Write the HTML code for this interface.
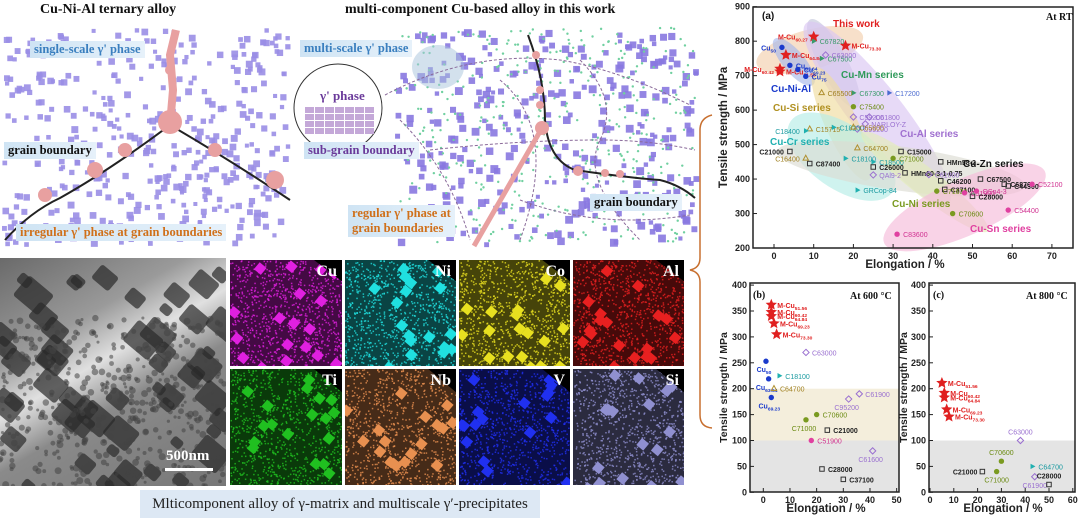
<!DOCTYPE html>
<html><head><meta charset="utf-8">
<style>
body{margin:0;background:#fff;width:1080px;height:518px;overflow:hidden;position:relative;font-family:"Liberation Sans",sans-serif}
.ttl{position:absolute;font-family:"Liberation Serif",serif;font-weight:bold;font-size:14px;color:#111;white-space:nowrap}
.lbl{position:absolute;font-family:"Liberation Serif",serif;font-weight:bold;font-size:12.5px;white-space:nowrap;background:linear-gradient(90deg,#cfe4f4,#e6f1fa);padding:1px 4px}
.map{position:absolute;overflow:hidden;background:#000}
.map span{position:absolute;right:5px;top:3px;color:#fff;font-family:"Liberation Serif",serif;font-weight:bold;font-size:16px}
svg{position:absolute;left:0;top:0}
</style></head><body>
<div class="ttl" style="left:40px;top:2px">Cu-Ni-Al ternary alloy</div>
<div class="ttl" style="left:345px;top:2px">multi-component Cu-based alloy in this work</div>

<svg id="schem" width="700" height="250"></svg>

<div class="lbl" style="left:30px;top:41px;color:#3a7fbf">single-scale γ' phase</div>
<div class="lbl" style="left:4px;top:142px;color:#111">grain boundary</div>
<div class="lbl" style="left:16px;top:224px;color:#d0701a">irregular γ' phase at grain boundaries</div>
<div class="lbl" style="left:300px;top:40px;color:#3a7fbf">multi-scale γ' phase</div>
<div class="lbl" style="left:304px;top:142px;color:#6a3a9a">sub-grain boundary</div>
<div class="lbl" style="left:348px;top:205px;color:#d0701a;line-height:15px">regular γ' phase at<br>grain boundaries</div>
<div class="lbl" style="left:590px;top:194px;color:#111">grain boundary</div>

<div style="position:absolute;left:0;top:258px;width:226px;height:228px;overflow:hidden;background:linear-gradient(150deg,#6a6a6a 0%,#9a9a9a 30%,#e0e0e0 45%,#8a8a8a 60%,#777 100%)">
<svg id="tem" width="226" height="228"></svg>
<div style="position:absolute;left:166px;top:190px;color:#fff;font-family:'Liberation Serif',serif;font-weight:bold;font-size:15px">500nm</div>
<div style="position:absolute;left:165px;top:210px;width:48px;height:3px;background:#fff"></div>
</div>

<div class="map" style="left:230px;top:260px;width:112px;height:106px"><svg class="m" data-c="#e020e0" width="112" height="106"></svg><span>Cu</span></div>
<div class="map" style="left:345px;top:260px;width:111px;height:106px"><svg class="m" data-c="#20e0e0" width="111" height="106"></svg><span>Ni</span></div>
<div class="map" style="left:459px;top:260px;width:111px;height:106px"><svg class="m" data-c="#e8e020" width="111" height="106"></svg><span>Co</span></div>
<div class="map" style="left:573px;top:260px;width:111px;height:106px"><svg class="m" data-c="#e82020" width="111" height="106"></svg><span>Al</span></div>
<div class="map" style="left:230px;top:369px;width:112px;height:116px"><svg class="m" data-c="#20c020" width="112" height="116"></svg><span>Ti</span></div>
<div class="map" style="left:345px;top:369px;width:111px;height:116px"><svg class="m" data-c="#e89050" width="111" height="116"></svg><span>Nb</span></div>
<div class="map" style="left:459px;top:369px;width:111px;height:116px"><svg class="m" data-c="#2030f0" width="111" height="116"></svg><span>V</span></div>
<div class="map" style="left:573px;top:369px;width:111px;height:116px"><svg class="m" data-c="#9090d0" width="111" height="116"></svg><span>Si</span></div>

<div style="position:absolute;left:140px;top:490px;width:400px;height:28px;background:#dde8f4;font-family:'Liberation Serif',serif;font-size:15px;color:#222;text-align:center;line-height:28px">Mlticomponent alloy of γ-matrix and multiscale γ′-precipitates</div>

<svg id="charts" width="1080" height="518"></svg>

<script>
// ---------- chart data ----------
const aNames=["M-Cu60.27","M-Cu73.30","M-Cu64.84","M-Cu60.42","M-Cu51.56","Cu50","Cu63.64","Cu69.23","Cu75","C67820","C67500","C67300","C17200","C63000","C65500","C75400","C59200","C61800","NARLOY-Z","C95200","C15715","C18400","C18200","C65600","C64700","C15000","C21000","C16400","C87400","C18100","C18500","C26000","C71000","HMn58-2","QAl9-2","HMn60-3-1-0.75","C61000","C46200","C67500","C68700","C44300","C37100","C71630","C51900","QSn4-3","C28000","C52100","C54400","C70600","C83600","GRCop-84"];
const aX=[10,18,3,1.5,1.5,2,4,6,8,10,12,20,29,13,12,20,20,24,23,21,9,8,15,20,21,32,4,8,9,18,25,25,30,42,25,33,39,42,52,58,59,43,41,48,51,50,65,59,45,31,21];
const aY=[813,787,760,720,712,782,730,718,698,800,750,650,650,760,650,610,580,580,560,545,545,540,550,550,490,480,480,460,445,460,450,435,460,450,412,418,413,395,400,385,380,370,365,360,365,350,385,310,300,240,368];
const aKind=["star","star","star","star","star","blue","blue","blue","blue","mn","mn","mn","c172","al","si","ni","al","al","al","al","si","cr","cr","si","si","zn","zn","si","zn","cr","cr","zn","ni","zn","al","zn","al","zn","zn","zn","zn","zn","ni","sn","sn","zn","sn","sn","ni","sn","cr"];
const aTicksX=[0,10,20,30,40,50,60,70];
const aTicksY=[200,300,400,500,600,700,800,900];

const bNames=["M-Cu51.56","M-Cu60.42","M-Cu64.84","M-Cu69.23","M-Cu73.30","Cu50","Cu63.64","Cu69.23","C18100","C64700","C63000","C61900","C95200","C70600","C71000","C21000","C51900","C61600","C28000","C37100"];
const bX=[3,3,3,4,5,1,2,3,6,4,16,36,32,20,16,24,18,41,22,30];
const bY=[362,348,340,326,305,253,219,183,225,200,270,190,180,150,140,120,100,80,45,25];
const bKind=["star","star","star","star","star","blue","blue","blue","cr","si","al","al","al","ni","ni","zn","sn","al","zn","zn"];

const cNames=["M-Cu51.56","M-Cu60.42","M-Cu64.84","M-Cu69.23","M-Cu73.30","C63000","C70600","C64700","C71000","C21000","C61900","C28000"];
const cX=[5,6,6,7,8,38,30,43,28,22,44,50];
const cY=[211,192,183,160,146,100,60,50,40,40,30,15];
const cKind=["star","star","star","star","star","al","ni","cr","ni","zn","al","zn"];
const bcTicksY=[0,50,100,150,200,250,300,350,400];
const bTicksX=[0,10,20,30,40,50];
const cTicksX=[0,10,20,30,40,50,60];

// ---------- helpers ----------
const NS="http://www.w3.org/2000/svg";
function mk(parent,tag,attrs,txt){const e=document.createElementNS(NS,tag);for(const k in attrs)e.setAttribute(k,attrs[k]);if(txt!=null)e.textContent=txt;parent.appendChild(e);return e;}
const sty={star:["#e02020","#e02020"],blue:["#1a3acc","#1a3acc"],mn:["#3a9a6a","#3a9a6a"],c172:["#4a6ad0","#4a6ad0"],al:["#9a70d0","#9a70d0"],si:["#b09030","#a08020"],ni:["#7a9a20","#6a8a10"],cr:["#20b0b0","#1a9aa0"],zn:["#333","#222"],sn:["#e040a0","#d03090"]};
function marker(g,k,x,y,s){const c=sty[k][0];
 if(k==="star"){let p="";for(let i=0;i<10;i++){const r=i%2?s*0.45:s;const a=-Math.PI/2+i*Math.PI/5;p+=(x+r*Math.cos(a)).toFixed(1)+","+(y+r*Math.sin(a)).toFixed(1)+" ";}return mk(g,"polygon",{points:p,fill:c});}
 if(k==="blue"||k==="ni"||k==="sn")return mk(g,"circle",{cx:x,cy:y,r:s*0.6,fill:c});
 if(k==="al")return mk(g,"polygon",{points:`${x},${y-s*0.7} ${x+s*0.7},${y} ${x},${y+s*0.7} ${x-s*0.7},${y}`,fill:"none",stroke:c,"stroke-width":1});
 if(k==="zn")return mk(g,"rect",{x:x-s*0.5,y:y-s*0.5,width:s,height:s,fill:"none",stroke:c,"stroke-width":1});
 if(k==="si")return mk(g,"polygon",{points:`${x},${y-s*0.7} ${x+s*0.6},${y+s*0.4} ${x-s*0.6},${y+s*0.4}`,fill:"none",stroke:c,"stroke-width":1});
 return mk(g,"polygon",{points:`${x+s*0.7},${y} ${x-s*0.4},${y-s*0.6} ${x-s*0.4},${y+s*0.6}`,fill:c});}

const C=document.getElementById("charts");

function axes(g,L,T,R,B,xf,yf,tx,ty,yTitle,xTitleX,xTitleY,yTitleX){
 mk(g,"rect",{x:L,y:T,width:R-L,height:B-T,fill:"none",stroke:"#222","stroke-width":1.5});
 tx.forEach(v=>{const x=xf(v);mk(g,"line",{x1:x,y1:B,x2:x,y2:B-4,stroke:"#222"});
  const t=mk(g,"text",{x:x,y:B+11,"text-anchor":"middle","font-size":9,"font-weight":"bold",fill:"#222"},v);
  });
 ty.forEach(v=>{const y=yf(v);mk(g,"line",{x1:L,y1:y,x2:L+4,y2:y,stroke:"#222"});
  const t=mk(g,"text",{x:L-3,y:y+3,"text-anchor":"end","font-size":9,"font-weight":"bold",fill:"#222"},v);
  });
 const xt=mk(g,"text",{x:xTitleX,y:xTitleY,"text-anchor":"middle","font-size":11.5,"font-weight":"bold",fill:"#222"},"Elongation / %");
 
 const yt=mk(g,"text",{x:0,y:0,transform:`translate(${yTitleX},${(T+B)/2}) rotate(-90)`,"text-anchor":"middle","font-size":yTitle[1],"font-weight":"bold",fill:"#222"},yTitle[0]);
 }

function label(g,name,x,y,k,fs){const m=name.match(/^(M-Cu|Cu)([\d.]+)$/);const col=sty[k][1];
 const t=mk(g,"text",{x:x,y:y,"font-size":fs,"font-weight":(k==="star"||k==="blue"||k==="zn")?"bold":"normal",fill:col});
 if(m){mk(t,"tspan",{},m[1]);mk(t,"tspan",{"font-size":fs*0.7,dy:2},m[2]);}else t.textContent=name;
 return t;}

// ---------- chart (a) ----------
const xa=v=>774+v*3.97, ya=v=>248-(v-200)*0.3447;
const ga=mk(C,"g",{});
const ells=[[9,775,55,20,-15,"#f3cfae"],[5,740,30,11,50,"#a8b8ea"],[15,735,50,14,62,"#c4c8dc"],[26,590,115,26,52,"#dac6f2"],[17,560,62,16,65,"#efdc9e"],[17,465,62,32,35,"#b6ece6"],[32,430,125,22,8,"#dcdcd2"],[38,392,80,14,38,"#e4ecb8"],[48,318,88,28,-24,"#f6bcda"]];
ells.forEach(e=>mk(ga,"ellipse",{cx:xa(e[0]),cy:ya(e[1]),rx:e[2],ry:e[3],transform:`rotate(${e[4]} ${xa(e[0])} ${ya(e[1])})`,fill:e[5],opacity:0.65}));
axes(ga,753,7,1073,248,xa,ya,aTicksX,aTicksY,["Tensile strength / MPa",11.5],905,268,727);
aNames.forEach((n,i)=>{const x=xa(aX[i]),y=ya(aY[i]);marker(ga,aKind[i],x,y,aKind[i]==="star"?6:4.5);
 const left=["C21000","C16400","C18400","M-Cu60.42","M-Cu60.27","Cu50"].includes(n);
 const t=label(ga,n,left?x-6:x+6,y+3,aKind[i],7);if(left)t.setAttribute("text-anchor","end");});
[["(a)",762,19,"#111",10,"bold","Liberation Sans"],["At RT",1046,20,"#111",10,"bold","Liberation Serif"],["This work",833,27,"#e02020",10,"bold"],["Cu-Mn series",841,78,"#2f9a5a",10,"bold"],["Cu-Ni-Al",771,92,"#1a3acc",10,"bold"],["Cu-Si series",773,111,"#b09020",10,"bold"],["Cu-Al series",900,137,"#a070d0",10,"bold"],["Cu-Cr series",770,145,"#20b0b0",10,"bold"],["Cu-Zn series",963,167,"#111",10,"bold"],["Cu-Ni series",892,207,"#7a9a20",10,"bold"],["Cu-Sn series",970,232,"#e040a0",10,"bold"]].forEach(s=>{
 const t=mk(ga,"text",{x:s[1],y:s[2],fill:s[3],"font-size":s[4],"font-weight":s[5],"font-family":s[6]||"Liberation Sans"},s[0]);
 });

// ---------- chart (b) ----------
const xb=v=>763.3+v*2.667, yb=v=>492.3-v*0.518;
const gb=mk(C,"g",{});
mk(gb,"rect",{x:750,y:yb(200),width:149,height:yb(100)-yb(200),fill:"#f4eedc"});
mk(gb,"rect",{x:750,y:yb(100),width:149,height:yb(0)-yb(100),fill:"#e4e4e4"});
axes(gb,750,283,899,492,xb,yb,bTicksX,bcTicksY,["Tensile strength / MPa",10.5],826,512,727);
bNames.forEach((n,i)=>{const x=xb(bX[i]),y=yb(bY[i]);marker(gb,bKind[i],x,y,bKind[i]==="star"?6:4.5);
 const below=n.startsWith("Cu")||["C71000","C95200","C61600"].includes(n);
 const t=below?label(gb,n,x-2,y+11,bKind[i],7):label(gb,n,x+6,y+3,bKind[i],7);if(below)t.setAttribute("text-anchor","middle");});
mk(gb,"text",{x:753,y:298,"font-size":10,"font-weight":"bold","font-family":"Liberation Serif",fill:"#111"},"(b)");
mk(gb,"text",{x:850,y:299,"font-size":10,"font-weight":"bold","font-family":"Liberation Serif",fill:"#111"},"At 600 °C");

// ---------- chart (c) ----------
const xc=v=>930+v*2.38, yc=v=>492.3-v*0.518;
const gc=mk(C,"g",{});
mk(gc,"rect",{x:929,y:yc(100),width:146,height:yc(0)-yc(100),fill:"#e4e4e4"});
axes(gc,929,283,1075,492,xc,yc,cTicksX,bcTicksY,["Tensile strength / MPa",10.5],1003,512,907);
cNames.forEach((n,i)=>{const x=xc(cX[i]),y=yc(cY[i]);marker(gc,cKind[i],x,y,cKind[i]==="star"?6:4.5);
 const left=["C21000"].includes(n),below=["C71000","C61900"].includes(n),above=["C63000","C70600","C28000"].includes(n);
 let t;if(left){t=label(gc,n,x-5,y+3,cKind[i],7);t.setAttribute("text-anchor","end");}
 else if(below){t=label(gc,n,x,y+11,cKind[i],7);t.setAttribute("text-anchor","middle");}
 else if(above){t=label(gc,n,x,y-6,cKind[i],7);t.setAttribute("text-anchor","middle");}
 else t=label(gc,n,x+6,y+3,cKind[i],7);});
mk(gc,"text",{x:933,y:298,"font-size":10,"font-weight":"bold","font-family":"Liberation Serif",fill:"#111"},"(c)");
mk(gc,"text",{x:1026,y:299,"font-size":10,"font-weight":"bold","font-family":"Liberation Serif",fill:"#111"},"At 800 °C");

// brace
const br=mk(C,"path",{d:"M712,115 Q700,118 700,130 L700,258 Q700,268 690,270 Q700,272 700,282 L700,415 Q700,427 712,428",fill:"none",stroke:"#c87030","stroke-width":1.5});


// ---------- decorative schematics (deterministic) ----------
let seed=7;const rnd=()=>{seed=(seed*16807)%2147483647;return seed/2147483647;};
const S=document.getElementById("schem");
for(let i=0;i<420;i++){const x=2+rnd()*285,y=28+rnd()*215;const s=4+rnd()*3;mk(S,"rect",{x:x,y:y,width:s,height:s,fill:"#9a8ee6",opacity:0.9});}
mk(S,"path",{d:"M5,240 Q30,212 60,198 Q110,170 170,125 Q230,160 290,200",fill:"none",stroke:"#222","stroke-width":2});
mk(S,"path",{d:"M170,125 L173,90 L170,55 L176,30",fill:"none",stroke:"#e8a0a0","stroke-width":8});
[[45,195,7],[95,170,8],[125,150,7],[170,122,12],[215,150,7],[275,180,9],[170,70,5]].forEach(b=>mk(S,"circle",{cx:b[0],cy:b[1],r:b[2],fill:"#e8a0a0"}));
for(let i=0;i<340;i++){const x=395+rnd()*300,y=28+rnd()*215;const s=4+rnd()*4;mk(S,"rect",{x:x,y:y,width:s,height:s,fill:"#8878e0",opacity:0.9});}
for(let i=0;i<400;i++){mk(S,"circle",{cx:395+rnd()*300,cy:28+rnd()*215,r:1.2,fill:"#70d0a0"});}
mk(S,"ellipse",{cx:438,cy:67,rx:26,ry:22,fill:"#a8c4dc",opacity:0.5});
[["M385,95 Q470,50 560,60 Q620,70 690,105","#8a6a9a"],["M400,120 Q450,170 470,240","#8a6a9a"],["M500,80 Q560,130 520,240","#8a6a9a"],["M580,60 Q620,100 600,140 Q580,180 640,240","#8a6a9a"],["M430,150 Q520,140 600,140 Q650,140 695,150","#8a6a9a"],["M520,200 Q600,230 690,215","#8a6a9a"]].forEach(p=>mk(S,"path",{d:p[0],fill:"none",stroke:p[1],"stroke-width":1,"stroke-dasharray":"3,2"}));
mk(S,"path",{d:"M528,35 Q545,80 545,120 Q548,160 575,170 Q630,178 660,180 Q680,185 695,198",fill:"none",stroke:"#222","stroke-width":2});
mk(S,"line",{x1:474,y1:246,x2:542,y2:128,stroke:"#e8a0a0","stroke-width":5});
[[542,128,7],[540,90,4],[540,105,4],[536,55,4],[578,171,5],[605,173,4],[620,174,4]].forEach(b=>mk(S,"circle",{cx:b[0],cy:b[1],r:b[2],fill:"#e8a0a0"}));
mk(S,"circle",{cx:338,cy:108,r:44,fill:"#fff",stroke:"#333","stroke-width":1});
mk(S,"text",{x:320,y:100,"font-size":13,"font-weight":"bold","font-family":"Liberation Serif",fill:"#6a3a9a"},"γ' phase");
for(let r=0;r<4;r++)for(let c=0;c<7;c++)mk(S,"rect",{x:305+c*10,y:107+r*7,width:9,height:6,fill:"#c4a8d8"});
const T=document.getElementById("tem");
for(let i=0;i<55;i++){const x=rnd()*226,y=rnd()*228;const s=12+rnd()*22;mk(T,"rect",{x:x,y:y,width:s,height:s*0.8,rx:3,fill:"#2a2a2a",opacity:0.7,transform:`rotate(40 ${x} ${y})`});}
for(let i=0;i<500;i++){mk(T,"circle",{cx:rnd()*226,cy:60+rnd()*168,r:1.5+rnd()*2,fill:"#444",opacity:0.55});}
document.querySelectorAll("svg.m").forEach(sv=>{const col=sv.dataset.c;const w=+sv.getAttribute("width"),h=+sv.getAttribute("height");
 mk(sv,"rect",{x:0,y:0,width:w,height:h,fill:col,opacity:0.3});
 for(let i=0;i<900;i++)mk(sv,"rect",{x:rnd()*w,y:rnd()*h,width:1.5,height:1.5,fill:col,opacity:0.8});
 for(let i=0;i<18;i++){const x=rnd()*w,y=rnd()*h;mk(sv,"rect",{x:x,y:y,width:9,height:9,fill:col,transform:`rotate(40 ${x} ${y})`});}
 mk(sv,"polygon",{points:`${w*0.75},0 ${w},0 ${w},${h*0.2}`,fill:"#000"});});
</script>
</body></html>
